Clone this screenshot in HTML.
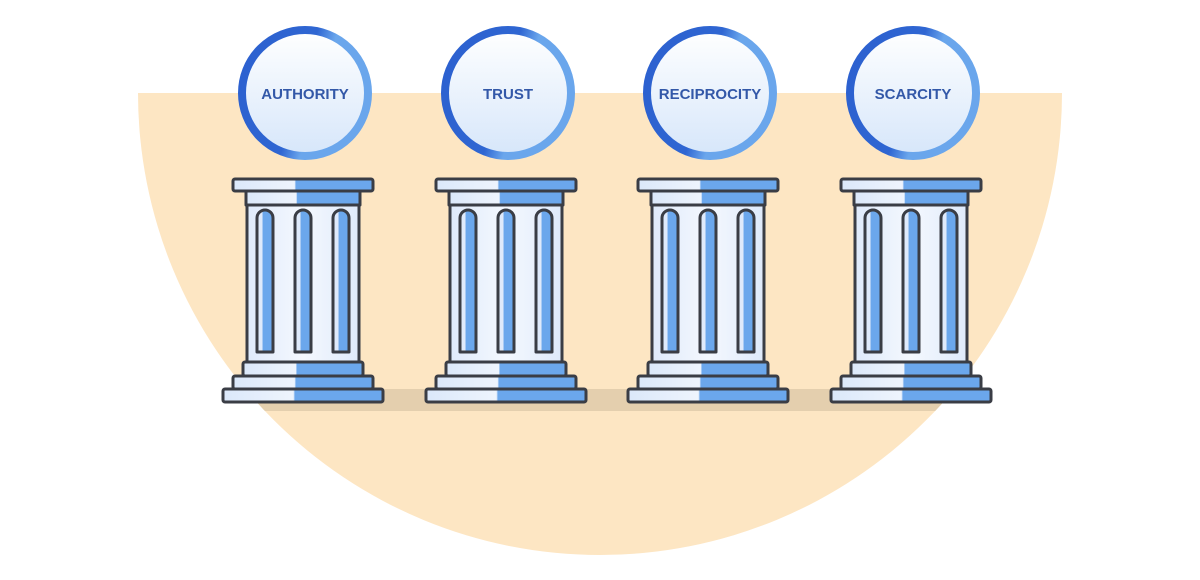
<!DOCTYPE html>
<html><head><meta charset="utf-8"><style>
html,body{margin:0;padding:0;background:#fff;}
svg{display:block}
text{font-family:"Liberation Sans",sans-serif;font-weight:bold;font-size:15px;fill:#3358a8;text-anchor:middle;}
</style></head><body>
<svg width="1200" height="580" viewBox="0 0 1200 580" xmlns="http://www.w3.org/2000/svg">
<defs>
<clipPath id="semi"><path d="M138 93 H1062 A462 462 0 0 1 138 93 Z"/></clipPath>
<linearGradient id="half" x1="0" x2="1" y1="0" y2="0">
<stop offset="0" stop-color="#dbe8fa"/><stop offset="0.44" stop-color="#eef4fd"/><stop offset="0.45" stop-color="#6ba7ec"/><stop offset="1" stop-color="#6ba7ec"/>
</linearGradient>
<linearGradient id="shaft" x1="0" x2="1"><stop offset="0" stop-color="#dfeafb"/><stop offset="0.5" stop-color="#f4f8fe"/><stop offset="1" stop-color="#dfeafb"/></linearGradient>
<linearGradient id="flute" x1="0" x2="1"><stop offset="0" stop-color="#dfeafb"/><stop offset="0.35" stop-color="#dfeafb"/><stop offset="0.36" stop-color="#6ba7ec"/><stop offset="1" stop-color="#6ba7ec"/></linearGradient>
<linearGradient id="disc" x1="0" y1="0" x2="0" y2="1"><stop offset="0" stop-color="#ffffff"/><stop offset="1" stop-color="#d6e6fa"/></linearGradient>
<linearGradient id="ring" x1="0" y1="0" x2="1" y2="0.3"><stop offset="0" stop-color="#2c60cf"/><stop offset="0.55" stop-color="#2f66d2"/><stop offset="0.7" stop-color="#6aa6ec"/><stop offset="1" stop-color="#6aa6ec"/></linearGradient>
<g id="pillar" stroke="#3a3d45" stroke-width="3" stroke-linejoin="round">
<rect x="-56" y="205" width="112" height="157" fill="url(#shaft)"/>
<path d="M-46 352 V218 a8 8 0 0 1 16 0 V352 Z" fill="url(#flute)"/>
<path d="M-8 352 V218 a8 8 0 0 1 16 0 V352 Z" fill="url(#flute)"/>
<path d="M30 352 V218 a8 8 0 0 1 16 0 V352 Z" fill="url(#flute)"/>
<rect x="-57" y="191" width="114" height="14" fill="url(#half)"/>
<rect x="-70" y="179" width="140" height="12" rx="2" fill="url(#half)"/>
<rect x="-60" y="362" width="120" height="14" rx="2" fill="url(#half)"/>
<rect x="-70" y="376" width="140" height="13" rx="2" fill="url(#half)"/>
<rect x="-80" y="389" width="160" height="13" rx="2" fill="url(#half)"/>
</g>
</defs>
<path d="M138 93 H1062 A462 462 0 0 1 138 93 Z" fill="#fde6c3"/>
<rect x="138" y="389" width="924" height="22" fill="#e4cfae" clip-path="url(#semi)"/>
<use href="#pillar" x="303"/>
<use href="#pillar" x="506"/>
<use href="#pillar" x="708"/>
<use href="#pillar" x="911"/>
<g>
<circle cx="305" cy="93" r="63" fill="url(#disc)" stroke="url(#ring)" stroke-width="8"/>
<circle cx="508" cy="93" r="63" fill="url(#disc)" stroke="url(#ring)" stroke-width="8"/>
<circle cx="710" cy="93" r="63" fill="url(#disc)" stroke="url(#ring)" stroke-width="8"/>
<circle cx="913" cy="93" r="63" fill="url(#disc)" stroke="url(#ring)" stroke-width="8"/>
<text x="305" y="99">AUTHORITY</text>
<text x="508" y="99">TRUST</text>
<text x="710" y="99">RECIPROCITY</text>
<text x="913" y="99">SCARCITY</text>
</g>
</svg>
</body></html>
